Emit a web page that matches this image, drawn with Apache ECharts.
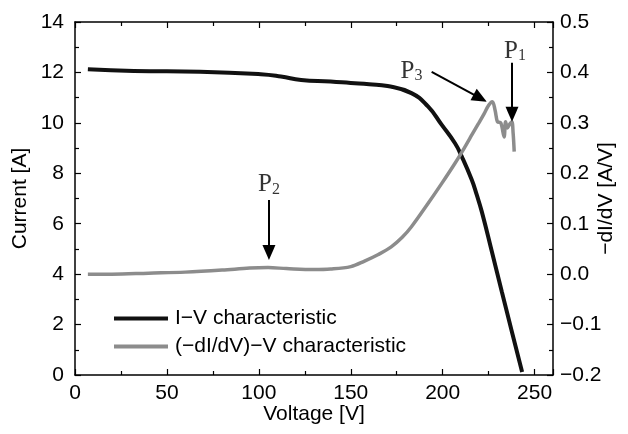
<!DOCTYPE html>
<html>
<head>
<meta charset="utf-8">
<script src="https://cdn.jsdelivr.net/npm/echarts@6/dist/echarts.min.js"></script>
<style>html,body{margin:0;padding:0;background:#fff}#c{width:628px;height:434px}</style>
</head>
<body>
<div id="c"></div>
<script>
// I-V characteristic
const ivVoltage = [7, 32, 68, 101, 112, 123, 139, 150, 160, 170, 183, 192, 199.5, 206.7, 210.4, 215.8, 218.5, 221.3, 226.8, 232.2, 237.7, 243.2];
const ivCurrent = [12.13, 12.06, 12.03, 11.93, 11.84, 11.70, 11.64, 11.58, 11.53, 11.46, 11.18, 10.65, 9.92, 9.19, 8.66, 7.74, 7.15, 6.47, 4.88, 3.29, 1.7, 0.12];
// (-dI/dV)-V characteristic
const dVoltage = [7, 20, 40, 60, 80, 95, 105, 115, 130, 139, 150, 157.5, 165, 172, 178, 183, 192, 199.5, 206.7, 212.2, 216, 219.5, 222.5, 225, 227, 228.5, 229.8, 231.6, 233.4, 234.2, 235.2, 236.2, 237.6, 238.3, 238.9];
const dValue = [0.0, 0.0, 0.002, 0.004, 0.008, 0.012, 0.013, 0.011, 0.009, 0.01, 0.015, 0.026, 0.039, 0.054, 0.073, 0.094, 0.14, 0.18, 0.22, 0.253, 0.277, 0.299, 0.318, 0.335, 0.342, 0.325, 0.302, 0.30, 0.272, 0.302, 0.29, 0.296, 0.302, 0.28, 0.243];
// annotations (voltage, current)
const annLabels = ['P1', 'P2', 'P3'];
const annSub = ['1', '2', '3'];
const annLabelPos = [[239.3, 12.9], [105.5, 7.6], [183, 12.1]];
const arrowFrom = [[237.7, 12.38], [105.5, 6.94], [194, 12.02]];
const arrowTo = [[237.7, 10.34], [105.5, 4.86], [220.4, 10.98]];
const seriesNames = ['I\u2212V characteristic', '(\u2212dI/dV)\u2212V characteristic'];

const FONT = 'Liberation Sans';
const zip = (a, b) => a.map((v, i) => [v, b[i]]);
const fmt1 = v => Math.abs(v) < 1e-9 ? '0.0' : (v < 0 ? '\u2212' : '') + Math.abs(v).toFixed(1);

const chart = echarts.init(document.getElementById('c'));
const axisLine = { show: true, onZero: false, lineStyle: { color: '#000', width: 1.5 } };
const tick = { show: true, inside: true, length: 6, lineStyle: { color: '#000', width: 1.2 } };
const minor = { show: true, splitNumber: 2, length: 4, lineStyle: { color: '#000', width: 1.2 } };
chart.setOption({
  animation: false,
  backgroundColor: '#fff',
  grid: { left: 75, right: 75, top: 22, bottom: 59, outerBoundsMode: 'none', containLabel: false },
  xAxis: [{
    type: 'value', min: 0, max: 260, interval: 50,
    name: 'Voltage [V]', nameLocation: 'middle', nameGap: 29, nameMoveOverlap: false,
    nameTextStyle: { fontFamily: FONT, fontSize: 21, color: '#000' },
    axisLine, axisTick: tick, minorTick: minor,
    axisLabel: { fontFamily: FONT, fontSize: 21, color: '#000', margin: 8, showMaxLabel: false },
    splitLine: { show: false }
  }, {
    type: 'value', min: 0, max: 260, interval: 50, position: 'top',
    axisLine, axisTick: tick, minorTick: minor,
    axisLabel: { show: false }, splitLine: { show: false }
  }],
  yAxis: [{
    type: 'value', min: 0, max: 14, interval: 2,
    name: 'Current [A]', nameLocation: 'middle', nameGap: 44, nameRotate: 90, nameMoveOverlap: false,
    nameTextStyle: { fontFamily: FONT, fontSize: 21, color: '#000' },
    axisLine, axisTick: tick, minorTick: minor,
    axisLabel: { fontFamily: FONT, fontSize: 21, color: '#000', margin: 11 },
    splitLine: { show: false }
  }, {
    type: 'value', min: -0.2, max: 0.5, interval: 0.1, position: 'right',
    name: '\u2212dI/dV [A/V]', nameLocation: 'middle', nameGap: 43, nameRotate: 90, nameMoveOverlap: false,
    nameTextStyle: { fontFamily: FONT, fontSize: 21, color: '#000' },
    axisLine, axisTick: tick, minorTick: minor,
    axisLabel: { fontFamily: FONT, fontSize: 21, color: '#000', margin: 7, formatter: fmt1 },
    splitLine: { show: false }
  }],
  legend: {
    data: seriesNames, orient: 'vertical', left: 109, top: 303, itemGap: 7,
    icon: 'rect', itemWidth: 54, itemHeight: 4,
    textStyle: { fontFamily: FONT, fontSize: 21, color: '#000', padding: [0, 0, 0, 2] }
  },
  series: [{
    name: seriesNames[0], type: 'line', data: zip(ivVoltage, ivCurrent),
    showSymbol: false, symbol: 'none', smooth: 0.5,
    lineStyle: { color: '#111', width: 4 }, itemStyle: { color: '#111' }
  }, {
    name: seriesNames[1], type: 'line', yAxisIndex: 1, data: zip(dVoltage, dValue),
    showSymbol: false, symbol: 'none', smooth: 0.35,
    lineStyle: { color: '#8c8c8c', width: 3.5 }, itemStyle: { color: '#8c8c8c' }
  }, {
    name: 'annotations', type: 'scatter', symbolSize: 0,
    data: annLabelPos.map((p, i) => ({ value: p, sub: annSub[i], name: annLabels[i] })),
    label: {
      show: true, position: 'inside',
      formatter: p => '{p|P}{s|' + p.data.sub + '}',
      rich: {
        p: { fontFamily: 'Liberation Serif', fontSize: 25, color: '#000', lineHeight: 28, verticalAlign: 'bottom' },
        s: { fontFamily: 'Liberation Serif', fontSize: 16, color: '#000', lineHeight: 28, verticalAlign: 'bottom' }
      }
    },
    markLine: {
      silent: true, symbol: ['none', 'triangle'], symbolSize: [13, 15],
      lineStyle: { color: '#000', width: 2, type: 'solid' },
      label: { show: false },
      data: arrowFrom.map((f, i) => [{ coord: f }, { coord: arrowTo[i] }])
    }
  }]
});
</script>
</body>
</html>
